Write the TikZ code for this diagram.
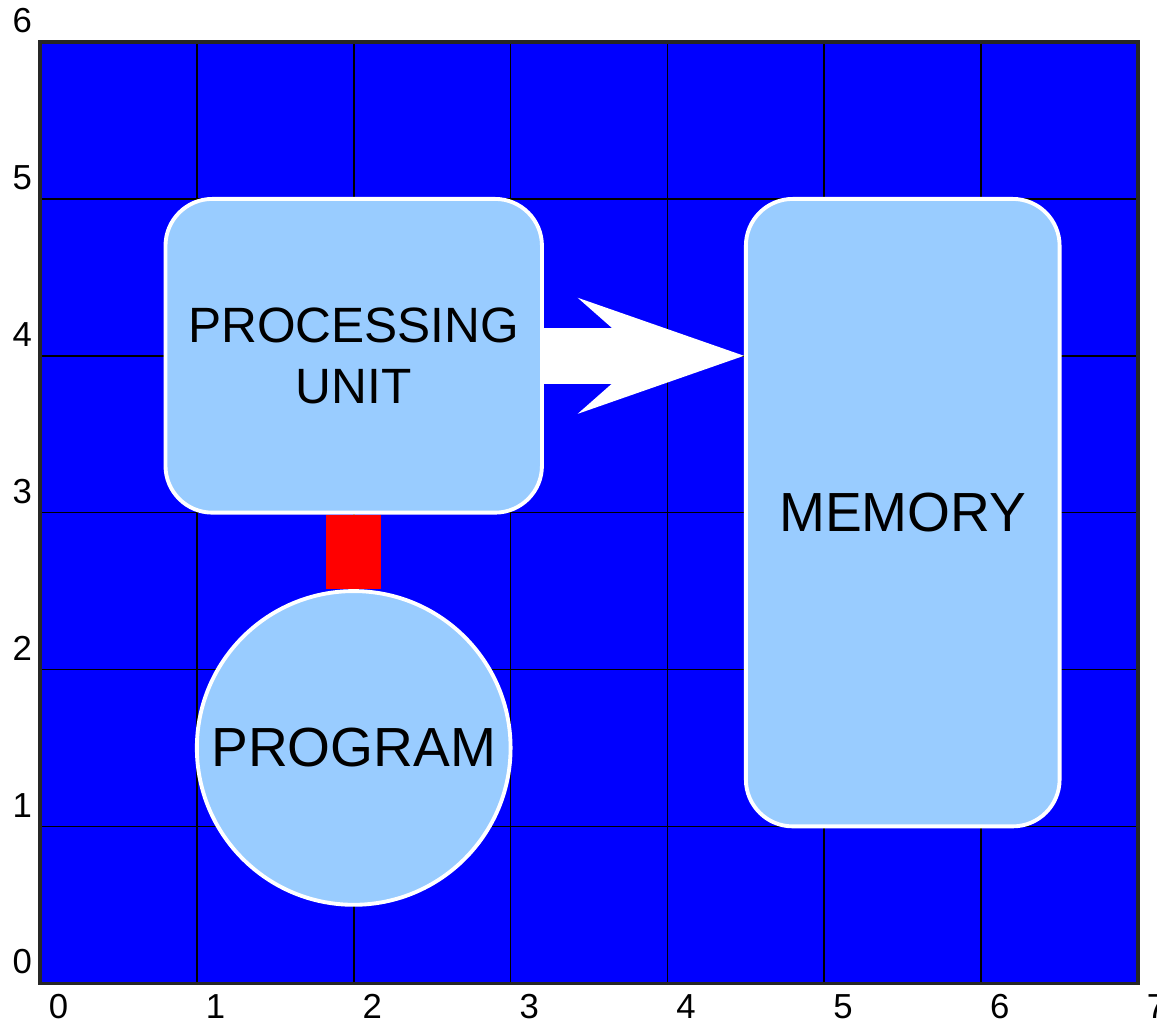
\documentclass[tikz,border=0pt]{standalone}
\usepackage{fontspec}
\setmainfont{Liberation Sans}
\usetikzlibrary{arrows.meta, positioning}
\definecolor{gridblue}{RGB}{0,0,255}
\definecolor{boxblue}{RGB}{153,204,255}

\begin{document}
\begin{tikzpicture}[
  block/.style={draw=white, fill=boxblue, line width=0.7pt, rounded corners=8.5pt, align=center, inner sep=0pt},
  ticklabel/.style={inner sep=0pt, font=\fontsize{6.3}{7}\selectfont}
]
  \useasboundingbox (-0.255,-0.236) rectangle (7.121,6.268);
  \fill[gridblue] (0,0) rectangle (7,6);
  \draw[line width=0.3pt] (0,0) grid (7,6);
  \draw[line width=0.6pt, black!85] (0,0) rectangle (7,6);
  \foreach \i in {0,...,7}
    \node[ticklabel, anchor=north west] (xtick\i) at (\i+0.05,-0.065) {\i};
  \foreach \i in {0,...,6}
    \node[ticklabel, anchor=south east] (ytick\i) at (-0.045,\i+0.05) {\i};

  \node[block, minimum width=2.4cm, minimum height=2cm, font=\fontsize{9}{11}\selectfont] (pu) at (2,4) {PROCESSING\\UNIT};
  \node[block, minimum width=2cm, minimum height=4cm, font=\fontsize{10}{12}\selectfont] (mem) at (5.5,3) {MEMORY};
  \node[block, circle, minimum size=2cm, font=\fontsize{10}{12}\selectfont] (prog) at (2,1.5) {PROGRAM};

  \draw[red, line width=0.35cm] (pu.south) -- (prog.north);
  \draw[white, line width=0.36cm, -{Stealth[length=1.06cm, width=0.74cm, inset=0.42cm, line width=0pt]}] (pu.east) -- (pu.east -| mem.west);
\end{tikzpicture}
\end{document}
